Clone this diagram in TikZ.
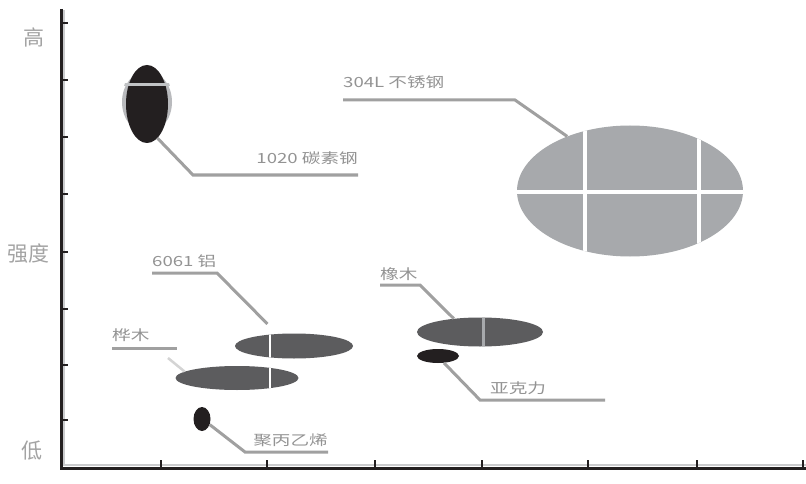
\documentclass[tikz,border=0pt]{standalone}
\usepackage{fontspec}
\newfontfamily\cjk{Noto Sans CJK SC}
\usetikzlibrary{shapes.geometric,calc}
\definecolor{blk}{HTML}{231F20}
\definecolor{dgr}{HTML}{5C5C5E}
\definecolor{lgr}{HTML}{A7A9AC}
\definecolor{ldr}{HTML}{A0A0A0}
\definecolor{txt}{HTML}{939393}
\newcommand\widetxt[1]{\scalebox{1.33}[1]{#1}}
\begin{document}
\begin{tikzpicture}[x=1pt,y=-1pt,
  blob/.style={ellipse, inner sep=0pt, draw=none},
  leader/.style={draw=ldr, line width=3pt},
  faint/.style={draw=ldr!45, line width=2.5pt},
  lbl/.style={text=txt, font=\cjk\fontsize{14}{14}\selectfont, inner sep=0pt},
  axlbl/.style={text=txt!85, font=\cjk\fontsize{21}{21}\selectfont, inner sep=0pt},
  sep/.style={draw=white, line width=3.5pt},
  tick/.style={draw=blk, line width=2.5pt}]
\useasboundingbox[fill=white] (0,0) rectangle (806,484);

% axes
\draw[draw=lgr!60, line width=2pt] (64,10) -- (64,465) -- (806,465);
\draw[draw=blk, line width=3pt] (61,9) -- (61,468) -- (806,468);
\foreach \y in {23,80,137,194,252,309,365,420} \draw[tick] (61,\y) -- (68,\y);
\foreach \x in {161,267,375,482,588,697,803} \draw[tick] (\x,468) -- (\x,460);

\node[axlbl] (hi) at (34,37) {高};
\node[axlbl] (mid) at (28,254) {强度};
\node[axlbl] (lo) at (32,451) {低};

% 304L stainless steel
\node[blob, fill=lgr, minimum width=226pt, minimum height=131pt] (e304) at (630,191) {};
\begin{scope}
  \clip (630,191) ellipse [x radius=113pt, y radius=65.5pt];
  \draw[sep] (585,110) -- (585,270);
  \draw[sep] (699,110) -- (699,270);
  \draw[sep] (500,192) -- (760,192);
\end{scope}
\node[lbl, anchor=base west] (l304) at (343,88) {\widetxt{304L 不锈钢}};
\coordinate (k304) at (515,100);
\draw[leader] (e304.139) -- (k304) -- (k304 -| l304.west);

% 1020 carbon steel
\node[blob, fill=lgr!80, minimum width=50pt, minimum height=62pt] (e1020b) at (147,102) {};
\node[blob, fill=blk, minimum width=42pt, minimum height=78pt] (e1020) at (147,104) {};
\begin{scope}
  \clip (147,102) ellipse [x radius=25pt, y radius=40pt];
  \draw[draw=lgr!70, line width=3pt] (120,85) -- (175,85);
\end{scope}
\node[lbl, anchor=base east] (l1020) at (358,164) {\widetxt{1020 碳素钢}};
\coordinate (k1020) at (193,175);
\draw[leader] (e1020.-73) -- (k1020) -- (k1020 -| l1020.east);

% 6061 aluminium
\node[blob, fill=dgr, minimum width=118pt, minimum height=25pt] (e6061) at (294,346) {};
\node[lbl, anchor=base west] (l6061) at (152,266) {\widetxt{6061 铝}};
\coordinate (k6061) at (217,273);
\draw[leader, shorten <=14pt] (e6061.144) -- (k6061) -- (k6061 -| l6061.west);

% birch
\node[blob, fill=dgr, minimum width=123pt, minimum height=24pt] (eb) at (237,378) {};
\node[lbl, anchor=base west] (lb) at (112,340) {\widetxt{桦木}};
\coordinate (kb1) at (177,348);
\coordinate (kb2) at (168,358);
\draw[leader] (kb1 -| lb.west) -- (kb1);
\draw[faint] (eb.173) -- (kb2);

% white separators on the two small bars
\begin{scope}
  \clip (294,346) ellipse [x radius=59pt, y radius=12.5pt];
  \draw[draw=white, line width=2.5pt] (270,330) -- (270,362);
\end{scope}
\begin{scope}
  \clip (237,378) ellipse [x radius=61.5pt, y radius=12pt];
  \draw[draw=white, line width=2.5pt] (270,362) -- (270,394);
\end{scope}

% oak
\node[blob, fill=dgr, minimum width=126pt, minimum height=29pt] (eo) at (480,332) {};
\begin{scope}
  \clip (480,332) ellipse [x radius=63pt, y radius=14.5pt];
  \draw[draw=lgr, line width=3pt] (483,315) -- (483,350);
\end{scope}
\node[lbl, anchor=base west] (lo2) at (380,279) {\widetxt{橡木}};
\coordinate (ko) at (420,285);
\draw[leader] (eo.153) -- (ko) -- (ko -| lo2.west);

% acrylic
\node[blob, fill=blk, minimum width=42pt, minimum height=14pt] (ea) at (438,356) {};
\node[lbl, anchor=base west] (la) at (490,393) {\widetxt{亚克力}};
\coordinate (ka) at (480,400);
\coordinate (ka2) at (605,400);
\draw[leader] (ea.-49) -- (ka) -- (ka2);

% polystyrene
\node[blob, fill=blk, minimum width=17pt, minimum height=24pt] (ep) at (202,419) {};
\node[lbl, anchor=base east] (lp) at (328,445) {\widetxt{聚丙乙烯}};
\coordinate (kp) at (245,452);
\draw[leader] (ep.-36) -- (kp) -- (kp -| lp.east);
\end{tikzpicture}
\end{document}
